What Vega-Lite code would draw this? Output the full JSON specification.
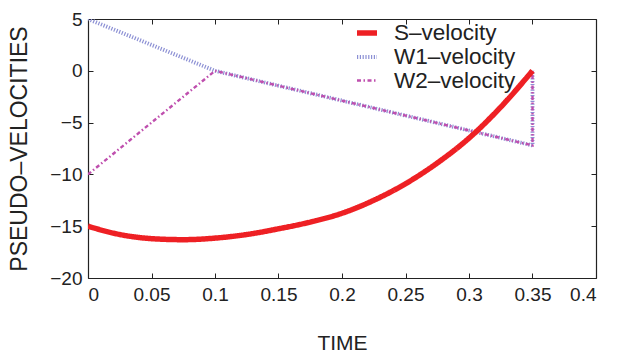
{
  "$schema": "https://vega.github.io/schema/vega-lite/v6.json",
  "width": 508,
  "height": 259,
  "autosize": {"type": "none"},
  "padding": {"left": 88, "top": 19, "right": 30, "bottom": 76},
  "background": "white",
  "config": {
    "font": "Liberation Sans",
    "view": {"stroke": null},
    "axis": {
      "grid": false,
      "domainColor": "#222",
      "domainWidth": 1.2,
      "tickColor": "#222",
      "tickWidth": 1,
      "tickSize": -5,
      "labelFont": "Liberation Sans",
      "labelFontSize": 19,
      "labelColor": "#222",
      "titleFont": "Liberation Sans",
      "titleFontWeight": "normal",
      "titleColor": "#222"
    },
    "legend": {
      "orient": "none",
      "legendX": 266,
      "legendY": 1,
      "symbolType": "stroke",
      "symbolSize": 400,
      "labelFont": "Liberation Sans",
      "labelFontSize": 22.5,
      "labelColor": "#222",
      "labelOffset": 14,
      "rowPadding": 0,
      "title": null
    }
  },
  "datasets": {
    "s": [
      {"series": "S-velocity", "t": 0.0, "v": -15.0},
      {"series": "S-velocity", "t": 0.025, "v": -15.8},
      {"series": "S-velocity", "t": 0.05, "v": -16.2},
      {"series": "S-velocity", "t": 0.075, "v": -16.3},
      {"series": "S-velocity", "t": 0.1, "v": -16.15},
      {"series": "S-velocity", "t": 0.125, "v": -15.8},
      {"series": "S-velocity", "t": 0.15, "v": -15.25},
      {"series": "S-velocity", "t": 0.175, "v": -14.6},
      {"series": "S-velocity", "t": 0.2, "v": -13.75},
      {"series": "S-velocity", "t": 0.225, "v": -12.5},
      {"series": "S-velocity", "t": 0.25, "v": -10.9},
      {"series": "S-velocity", "t": 0.275, "v": -8.9},
      {"series": "S-velocity", "t": 0.3, "v": -6.5},
      {"series": "S-velocity", "t": 0.325, "v": -3.5},
      {"series": "S-velocity", "t": 0.35, "v": 0.0}
    ],
    "w1": [
      {"series": "W1-velocity", "i": 0, "t": 0.0, "v": 5.0},
      {"series": "W1-velocity", "i": 1, "t": 0.1, "v": 0.0},
      {"series": "W1-velocity", "i": 2, "t": 0.35, "v": -7.2},
      {"series": "W1-velocity", "i": 3, "t": 0.35, "v": 0.0}
    ],
    "w2": [
      {"series": "W2-velocity", "i": 0, "t": 0.0, "v": -10.0},
      {"series": "W2-velocity", "i": 1, "t": 0.1, "v": 0.0},
      {"series": "W2-velocity", "i": 2, "t": 0.35, "v": -7.2},
      {"series": "W2-velocity", "i": 3, "t": 0.35, "v": 0.0}
    ]
  },
  "layer": [
    {
      "data": {"name": "w1"},
      "mark": {"type": "line", "clip": true},
      "encoding": {
        "x": {"field": "t", "type": "quantitative", "scale": {"domain": [0, 0.4], "nice": false, "zero": false},
              "axis": {"orient": "bottom", "title": "TIME", "titleFontSize": 21, "values": [0, 0.05, 0.1, 0.15, 0.2, 0.25, 0.3, 0.35, 0.4], "format": "~g", "labelPadding": 12, "titlePadding": 28}},
        "y": {"field": "v", "type": "quantitative", "scale": {"domain": [-20, 5], "nice": false, "zero": false},
              "axis": {"orient": "left", "title": "PSEUDO\u2013VELOCITIES", "titleFontSize": 23, "values": [-20, -15, -10, -5, 0, 5], "labelPadding": 11, "titlePadding": 18}},
        "order": {"field": "i", "type": "quantitative"},
        "color": {"field": "series", "type": "nominal", "scale": {"domain": ["S-velocity", "W1-velocity", "W2-velocity"], "range": ["#ee2024", "#8c90d4", "#bf4fae"]},
                  "legend": {"labelExpr": "replace(datum.label, '-', '\u2013')"}},
        "strokeDash": {"field": "series", "type": "nominal", "scale": {"domain": ["S-velocity", "W1-velocity", "W2-velocity"], "range": [[1, 0], [1.2, 1.6], [4, 2.5, 1.5, 2.5]]}},
        "strokeWidth": {"field": "series", "type": "nominal", "scale": {"domain": ["S-velocity", "W1-velocity", "W2-velocity"], "range": [5.5, 2.4, 4]}}
      }
    },
    {
      "data": {"name": "w2"},
      "mark": {"type": "line", "clip": true},
      "encoding": {
        "x": {"field": "t", "type": "quantitative", "axis": null},
        "y": {"field": "v", "type": "quantitative", "axis": null},
        "order": {"field": "i", "type": "quantitative"},
        "color": {"field": "series", "type": "nominal"},
        "strokeDash": {"field": "series", "type": "nominal"},
        "strokeWidth": {"field": "series", "type": "nominal"}
      }
    },
    {
      "data": {"name": "s"},
      "mark": {"type": "line", "interpolate": "monotone", "clip": true},
      "encoding": {
        "x": {"field": "t", "type": "quantitative", "axis": null},
        "y": {"field": "v", "type": "quantitative", "axis": null},
        "color": {"field": "series", "type": "nominal"},
        "strokeDash": {"field": "series", "type": "nominal"},
        "strokeWidth": {"field": "series", "type": "nominal"}
      }
    },
    {
      "data": {"name": "s"},
      "mark": {"type": "point", "opacity": 0},
      "encoding": {
        "x": {"field": "t", "type": "quantitative", "axis": {"orient": "top", "labels": false, "title": null, "values": [0, 0.05, 0.1, 0.15, 0.2, 0.25, 0.3, 0.35, 0.4]}},
        "y": {"field": "v", "type": "quantitative", "axis": {"orient": "right", "labels": false, "title": null, "values": [-20, -15, -10, -5, 0, 5]}}
      }
    }
  ],
  "resolve": {"axis": {"x": "independent", "y": "independent"}}
}
